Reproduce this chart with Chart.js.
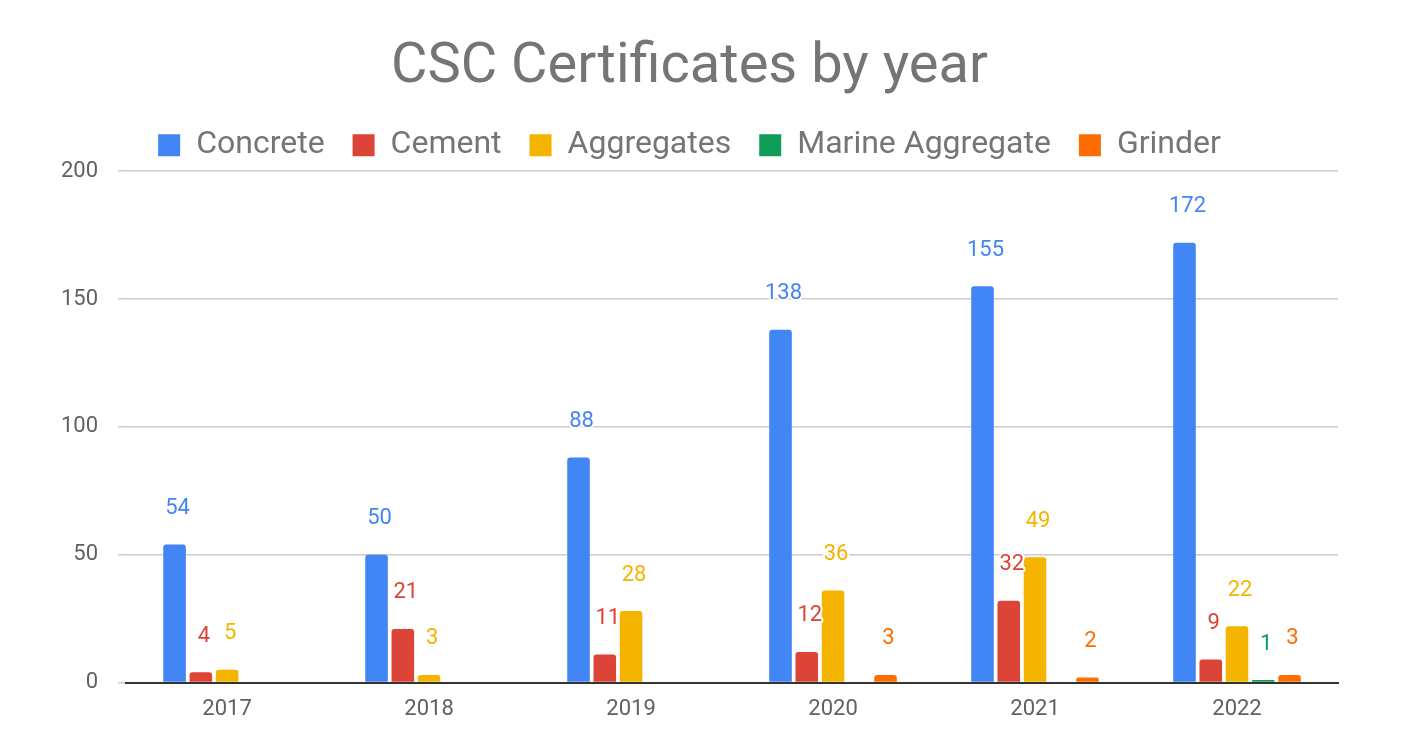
<!DOCTYPE html>
<html><head><meta charset="utf-8">
<script src="https://cdn.jsdelivr.net/npm/chart.js@4"></script>
<style>html,body{margin:0;padding:0;background:#fff}#w{width:1410px;height:742px}</style>
</head><body><div id="w"><canvas id="c"></canvas></div>
<script>
const categories = ["2017","2018","2019","2020","2021","2022"];
const concrete = [54,50,88,138,155,172];
const cement = [4,21,11,12,32,9];
const aggregates = [5,3,28,36,49,22];
const marine = [null,null,null,null,null,1];
const grinder = [null,null,null,3,2,3];
const yTicks = [0,50,100,150,200];
const names = ["Concrete","Cement","Aggregates","Marine Aggregate","Grinder"];
const colors = ["#4285f4","#db4437","#f4b400","#0f9d58","#ff6d01"];
const series = [concrete,cement,aggregates,marine,grinder];

const labelPlugin = {
  id:'lbl',
  afterDatasetsDraw(chart){
    const ctx = chart.ctx;
    ctx.save();
    ctx.font = '22px Roboto';
    ctx.textAlign='center'; ctx.textBaseline='middle';
    chart.data.datasets.forEach((ds,i)=>{
      chart.getDatasetMeta(i).data.forEach((bar,j)=>{
        const v = ds.data[j]; if(v==null) return;
        const y = bar.y - 36;
        ctx.lineWidth=4; ctx.strokeStyle='#fff'; ctx.lineJoin='round';
        ctx.strokeText(String(v), bar.x+3, y);
        ctx.fillStyle = colors[i];
        ctx.fillText(String(v), bar.x+3, y);
      });
    });
    ctx.restore();
  }
};

new Chart(document.getElementById('c'),{
  type:'bar',
  data:{labels:categories,datasets:series.map((d,i)=>({label:names[i],data:d,backgroundColor:colors[i],borderRadius:{topLeft:3,topRight:3},borderSkipped:'bottom',categoryPercentage:0.65,barPercentage:0.86}))},
  options:{
    responsive:true,maintainAspectRatio:false,animation:false,
    layout:{padding:{left:41,right:72,top:10,bottom:13}},
    plugins:{
      title:{display:true,text:'CSC Certificates by year',color:'#757575',font:{family:'Roboto',size:56,weight:'normal'},padding:{top:24,bottom:0}},
      legend:{labels:{color:'#757575',font:{family:'Roboto',size:32},boxWidth:22,boxHeight:22,padding:28},padding:{bottom:24}},
      tooltip:{enabled:false}
    },
    scales:{
      x:{grid:{display:false},border:{color:'#333',width:2},ticks:{color:'#616161',font:{family:'Roboto',size:22},padding:6}},
      y:{min:0,max:200,afterBuildTicks(ax){ax.ticks=yTicks.map(v=>({value:v}));},grid:{color:'#ccc',lineWidth:1.5},border:{display:false},ticks:{color:'#616161',font:{family:'Roboto',size:22},padding:20}}
    }
  },
  plugins:[labelPlugin]
});
</script></body></html>
